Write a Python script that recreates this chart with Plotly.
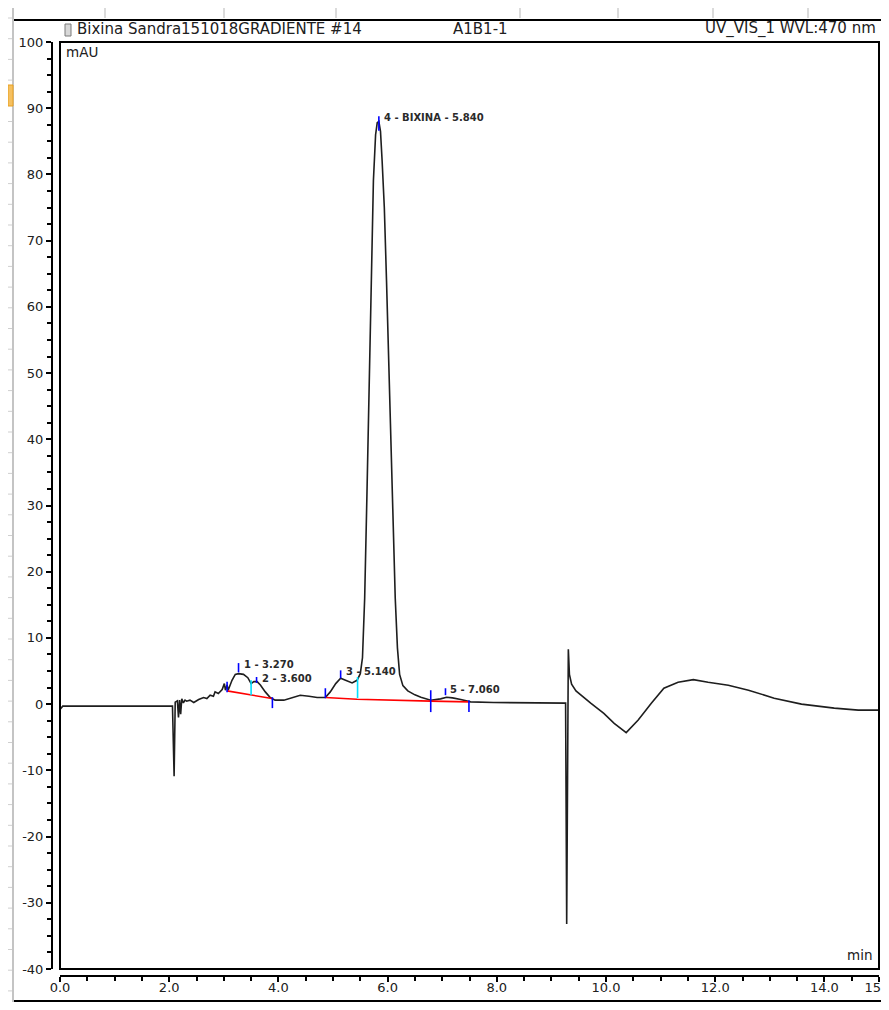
import plotly.graph_objects as go

# ---------------- data ----------------
time_min = [0.00, 0.05, 0.50, 1.00, 1.50, 2.06, 2.09, 2.11, 2.15, 2.17, 2.19, 2.21, 2.23,
            2.26, 2.29, 2.32, 2.38, 2.45, 2.54, 2.63, 2.69, 2.75, 2.81, 2.84, 2.90, 2.97,
            3.01, 3.03, 3.06, 3.08, 3.15, 3.21, 3.27, 3.36, 3.44, 3.50, 3.55, 3.61, 3.67,
            3.76, 3.85, 3.94, 4.10, 4.28, 4.40, 4.56, 4.71, 4.86, 4.95, 5.05, 5.14, 5.23,
            5.35, 5.44, 5.50, 5.54, 5.58, 5.62, 5.66, 5.70, 5.74, 5.78, 5.81, 5.84, 5.87,
            5.90, 5.94, 5.98, 6.02, 6.06, 6.10, 6.14, 6.18, 6.22, 6.28, 6.37, 6.50, 6.61,
            6.79, 6.97, 7.08, 7.19, 7.34, 7.52, 7.94, 8.26, 8.62, 9.00, 9.26, 9.28, 9.31,
            9.33, 9.37, 9.45, 9.55, 9.72, 9.96, 10.15, 10.37, 10.59, 10.83, 11.06, 11.32,
            11.60, 11.87, 12.24, 12.61, 13.08, 13.58, 14.18, 14.62, 15.00]
signal_mau = [-0.8, -0.3, -0.3, -0.3, -0.3, -0.3, -10.9, 0.3, 0.5, -2.0, 0.6, -1.5, 0.8,
              0.2, 0.6, 0.45, 0.6, 0.25, 0.7, 1.0, 0.85, 1.35, 1.2, 1.85, 1.6, 2.2,
              3.1, 2.1, 2.9, 2.1, 3.6, 4.5, 4.6, 4.5, 4.0, 3.1, 3.4, 3.4, 2.9,
              1.85, 1.0, 0.6, 0.6, 1.1, 1.35, 1.2, 1.0, 1.0, 1.85, 3.1, 3.9, 3.6,
              3.2, 3.6, 4.6, 7.0, 16.0, 31.0, 48.0, 65.0, 79.0, 86.0, 87.8, 88.0, 86.5,
              82.0, 75.0, 64.0, 52.0, 40.0, 27.0, 16.0, 8.5, 4.5, 2.8, 2.0, 1.4, 1.05,
              0.6, 0.8, 1.05, 0.95, 0.7, 0.35, 0.25, 0.25, 0.2, 0.15, 0.15, -33.2, 8.3,
              4.5, 3.0, 2.0, 1.3, 0.15, -1.4, -2.9, -4.3, -2.4, 0.15, 2.4, 3.3,
              3.7, 3.3, 2.85, 2.1, 0.9, 0.0, -0.6, -0.9, -0.9]

peak_rt = [3.27, 3.60, 5.14, 5.84, 7.06]
peak_labels = ["1 - 3.270", "2 - 3.600", "3 - 5.140", "4 - BIXINA - 5.840", "5 - 7.060"]
apex_mark_low = [4.8, 3.2, 3.9, 86.6, 1.35]
apex_mark_high = [6.2, 4.1, 5.1, 88.8, 2.4]

bound_rt = [3.06, 3.89, 4.86, 6.79, 7.49]
bound_low = [1.8, -0.6, 0.9, -1.2, -1.2]
bound_high = [3.4, 1.05, 2.4, 2.1, 0.6]

valley_rt = [3.50, 5.45]
valley_low = [1.35, 0.9]
valley_high = [3.6, 4.1]

base1_t = [3.06, 3.50, 3.88]
base1_y = [2.0, 1.36, 0.86]
base2_t = [4.86, 5.44, 6.79, 7.49]
base2_y = [1.0, 0.75, 0.45, 0.35]

y_tick_vals = [-40, -30, -20, -10, 0, 10, 20, 30, 40, 50, 60, 70, 80, 90, 100]
y_tick_text = ["-40", "-30", "-20", "-10", "0", "10", "20", "30", "40", "50",
               "60", "70", "80", "90", "100"]
x_tick_vals = [0, 2, 4, 6, 8, 10, 12, 14, 15]
x_tick_text = ["0.0", "2.0", "4.0", "6.0", "8.0", "10.0", "12.0", "14.0", "15.0"]

header_left = "Bixina Sandra151018GRADIENTE #14"
header_mid = "A1B1-1"
header_right = "UV_VIS_1 WVL:470 nm"
y_unit = "mAU"
x_unit = "min"

# ---------------- figure ----------------
# The page body keeps its default 8 px margin: the figure is 16 px smaller than
# the window and reference pixel positions are shifted by 8 px.
OFF = 8
W, H = 889 - 2 * OFF, 1010 - 2 * OFF


def px(x):
    return (x - OFF) / W


def py(y):
    return 1 - (y - OFF) / H


def vsegments(xs, lows, highs):
    vx, vy = [], []
    for x, lo, hi in zip(xs, lows, highs):
        vx += [x, x, None]
        vy += [lo, hi, None]
    return vx, vy


fig = go.Figure()

fig.add_trace(go.Scatter(x=time_min, y=signal_mau, mode="lines",
                         line=dict(color="#1e1e1e", width=1.6), hoverinfo="skip"))
fig.add_trace(go.Scatter(x=base1_t, y=base1_y, mode="lines",
                         line=dict(color="#ff0000", width=1.6), hoverinfo="skip"))
fig.add_trace(go.Scatter(x=base2_t, y=base2_y, mode="lines",
                         line=dict(color="#ff0000", width=1.6), hoverinfo="skip"))

bx, by = vsegments(bound_rt, bound_low, bound_high)
fig.add_trace(go.Scatter(x=bx, y=by, mode="lines",
                         line=dict(color="#0000ff", width=1.6), hoverinfo="skip"))
vx, vy = vsegments(valley_rt, valley_low, valley_high)
fig.add_trace(go.Scatter(x=vx, y=vy, mode="lines",
                         line=dict(color="#00e0ff", width=1.6), hoverinfo="skip"))
ax_, ay_ = vsegments(peak_rt, apex_mark_low, apex_mark_high)
fig.add_trace(go.Scatter(x=ax_, y=ay_, mode="lines",
                         line=dict(color="#0000ff", width=1.6), hoverinfo="skip"))

for rt, top, lab in zip(peak_rt, apex_mark_high, peak_labels):
    fig.add_annotation(x=rt, y=top, xref="x", yref="y", text=lab, showarrow=False,
                       xanchor="left", yanchor="middle", xshift=3, yshift=-1,
                       font=dict(family="DejaVu Sans", size=10, color="#2a2a2a",
                                 weight="bold"))

tick_font = dict(family="DejaVu Sans", size=13, color="#202020")

fig.update_layout(
    width=W, height=H, autosize=False,
    margin=dict(l=0, r=0, t=0, b=0),
    paper_bgcolor="white", plot_bgcolor="white",
    showlegend=False,
    xaxis=dict(domain=[px(60), px(879)], range=[0, 15], anchor="free",
               position=py(976), showline=True, linecolor="black", linewidth=2,
               ticks="outside", ticklen=5, tickwidth=1.5, tickcolor="black",
               tickmode="array", tickvals=x_tick_vals, ticktext=x_tick_text,
               minor=dict(ticks="outside", dtick=0.5, tick0=0, ticklen=4,
                          tickwidth=1.5, tickcolor="black", showgrid=False),
               ticklabelstandoff=-6, ticklabeloverflow="allow",
               showgrid=False, zeroline=False, tickfont=tick_font, fixedrange=True,
               automargin=False),
    yaxis=dict(domain=[py(969), py(42)], range=[-40, 100], anchor="free",
               position=px(52), showline=True, linecolor="black", linewidth=2,
               ticks="outside", ticklen=5, tickwidth=1.5, tickcolor="black",
               tickmode="array", tickvals=y_tick_vals, ticktext=y_tick_text,
               minor=dict(ticks="outside", dtick=2.5, tick0=0, ticklen=4,
                          tickwidth=1.5, tickcolor="black", showgrid=False),
               showgrid=False, zeroline=False, tickfont=tick_font, fixedrange=True,
               automargin=False),
)

shapes = []
# plot frame
shapes.append(dict(type="rect", xref="x domain", yref="y domain", x0=0, x1=1, y0=0, y1=1,
                   line=dict(color="black", width=2), layer="above"))
# report page border lines
shapes.append(dict(type="line", xref="paper", yref="paper", x0=px(13), x1=1,
                   y0=py(20), y1=py(20), line=dict(color="black", width=2)))
shapes.append(dict(type="line", xref="paper", yref="paper", x0=px(13), x1=1,
                   y0=py(1001), y1=py(1001), line=dict(color="black", width=2)))
# spreadsheet grid remnants
shapes.append(dict(type="line", xref="paper", yref="paper", x0=px(13), x1=px(13),
                   y0=0, y1=1, line=dict(color="#c4c4c4", width=2)))
for k in range(50):
    yy = 18 + 20.7 * k
    if yy > 1002:
        break
    shapes.append(dict(type="line", xref="paper", yref="paper", x0=0, x1=px(12),
                       y0=py(yy), y1=py(yy), line=dict(color="#cfcfcf", width=1)))
for cx in [105, 224, 336, 520, 618, 713, 808]:
    shapes.append(dict(type="line", xref="paper", yref="paper", x0=px(cx), x1=px(cx),
                       y0=1, y1=py(18), line=dict(color="#cfcfcf", width=1.5)))
    shapes.append(dict(type="line", xref="paper", yref="paper", x0=px(cx), x1=px(cx),
                       y0=py(1003), y1=0, line=dict(color="#cfcfcf", width=1.5)))
# selected-row highlight
shapes.append(dict(type="rect", xref="paper", yref="paper", x0=0, x1=px(13),
                   y0=py(106), y1=py(85), line=dict(color="#e8a020", width=1),
                   fillcolor="#f5c060"))
# small document icon in the header
shapes.append(dict(type="rect", xref="paper", yref="paper", x0=px(65), x1=px(71),
                   y0=py(36), y1=py(24), line=dict(color="#7a7a7a", width=1),
                   fillcolor="#d8d8d8"))
fig.update_layout(shapes=shapes)

head_font = dict(family="DejaVu Sans", size=15, color="#202020")
unit_font = dict(family="DejaVu Sans", size=13.5, color="#202020")
fig.add_annotation(x=px(75), y=py(29), xref="paper", yref="paper", text=header_left,
                   showarrow=False, xanchor="left", yanchor="middle", font=head_font)
fig.add_annotation(x=px(451), y=py(29), xref="paper", yref="paper", text=header_mid,
                   showarrow=False, xanchor="left", yanchor="middle", font=head_font)
fig.add_annotation(x=px(878), y=py(29), xref="paper", yref="paper", text=header_right,
                   showarrow=False, xanchor="right", yanchor="middle", font=head_font)
fig.add_annotation(x=px(64), y=py(52), xref="paper", yref="paper", text=y_unit,
                   showarrow=False, xanchor="left", yanchor="middle", font=unit_font)
fig.add_annotation(x=px(874), y=py(955), xref="paper", yref="paper", text=x_unit,
                   showarrow=False, xanchor="right", yanchor="middle", font=unit_font)

fig.write_html("out.html")
